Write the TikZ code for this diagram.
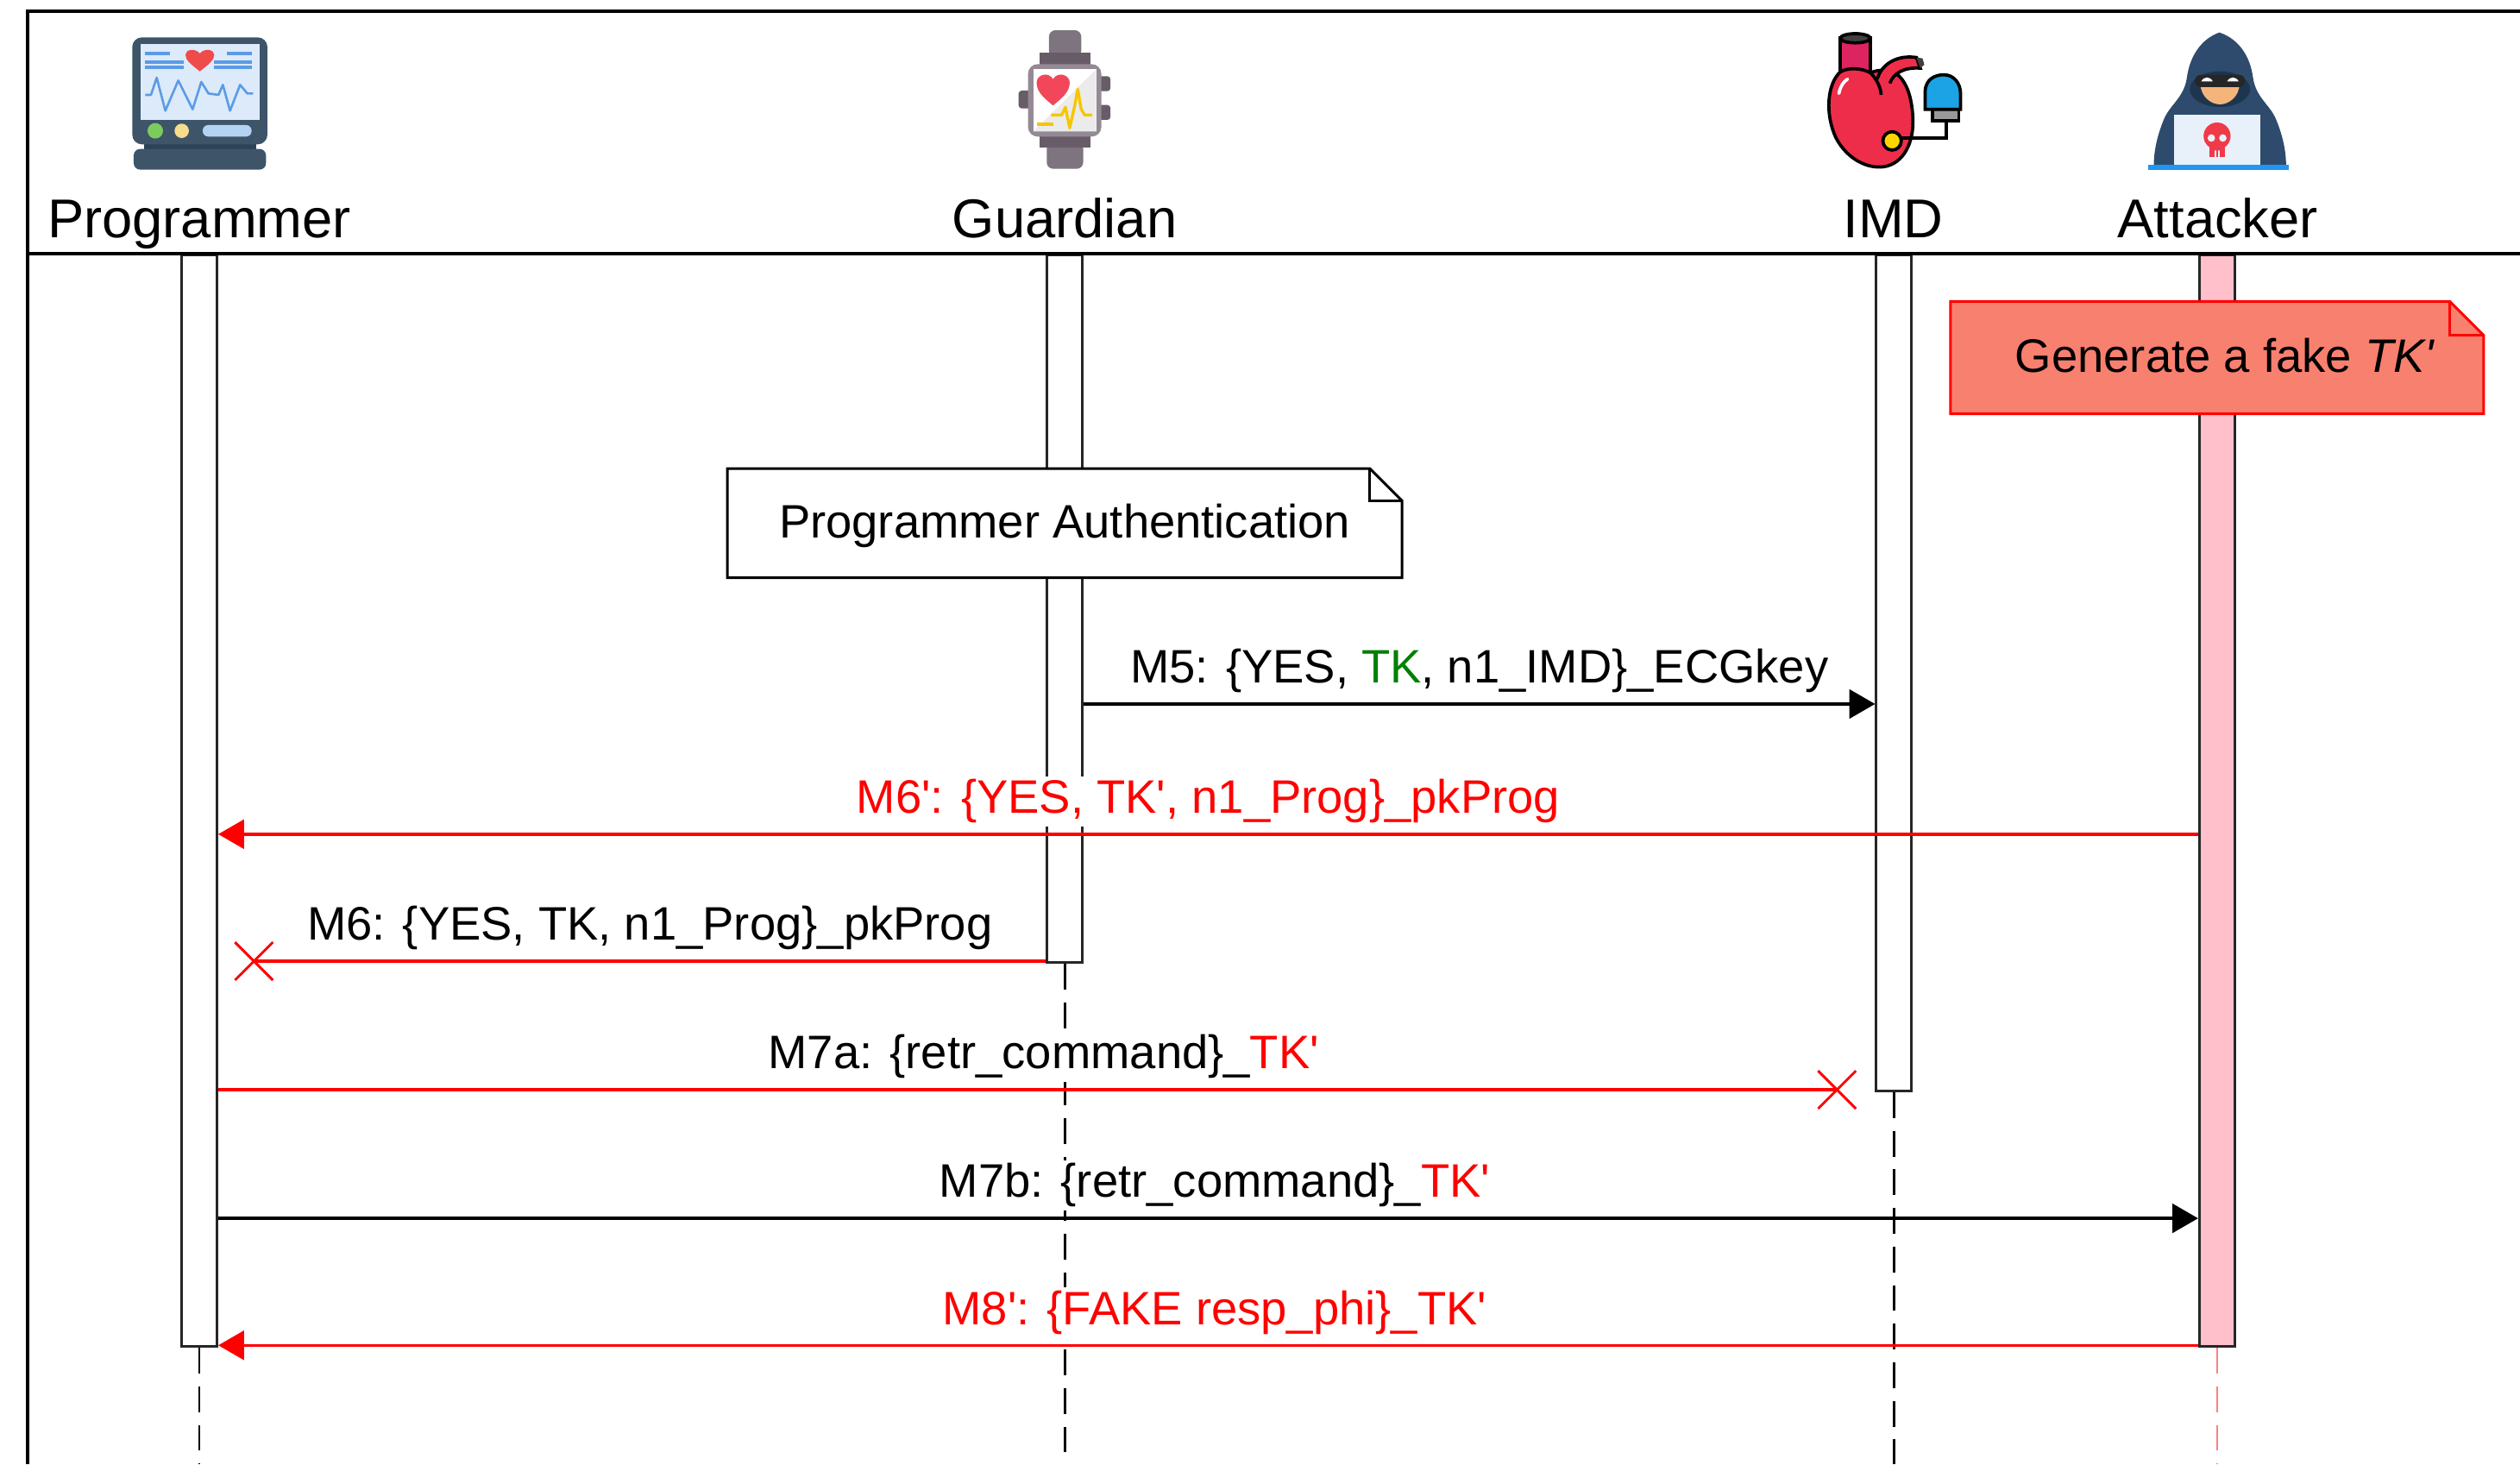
\documentclass[tikz,border=0pt]{standalone}
\usepackage{fontspec}
\setmainfont{Liberation Sans}
\usetikzlibrary{arrows.meta,shapes.misc}

\definecolor{tkgreen}{HTML}{008000}
\definecolor{fakefill}{HTML}{F8806F}
\definecolor{attpink}{HTML}{FFC0CB}
% icon colours
\definecolor{monslate}{HTML}{3D5469}
\definecolor{monneck}{HTML}{2E4256}
\definecolor{monscreen}{HTML}{DCEAF9}
\definecolor{monline}{HTML}{5B9BE6}
\definecolor{monheart}{HTML}{EF4B4B}
\definecolor{mongreen}{HTML}{7DCB5D}
\definecolor{monyellow}{HTML}{F6DC8C}
\definecolor{monpill}{HTML}{B4D3F2}
\definecolor{bandgrey}{HTML}{7E747F}
\definecolor{banddark}{HTML}{675C68}
\definecolor{casegrey}{HTML}{948A95}
\definecolor{watchheart}{HTML}{F2475A}
\definecolor{watchecg}{HTML}{F7C600}
\definecolor{imdred}{HTML}{EE2D4B}
\definecolor{imdaorta}{HTML}{DD2360}
\definecolor{imdblue}{HTML}{1BA3E5}
\definecolor{imdyellow}{HTML}{FFD500}
\definecolor{hoodblue}{HTML}{2E4B6D}
\definecolor{hooddark}{HTML}{1E3550}
\definecolor{skin}{HTML}{F4B47B}
\definecolor{laptop}{HTML}{E8F1F9}
\definecolor{skull}{HTML}{F03A4A}
\definecolor{baseblue}{HTML}{2196F3}

\newcommand{\TKp}{TK\textquotesingle}

\begin{document}
\begin{tikzpicture}[x=0.5pt,y=-0.5pt,
    frame/.style={line width=1.1pt},
    actor/.style={anchor=base, inner sep=0pt, font=\fontsize{17}{20}\selectfont},
    actbar/.style={draw=black!85, fill=white, line width=0.8pt, anchor=north,
                   minimum width=11pt, inner sep=0pt},
    lifeline/.style={line width=0.8pt, dash pattern=on 8pt off 4pt},
    msg/.style={line width=0.9pt},
    tip/.style={-{Triangle[length=8pt,width=9pt]}},
    msglbl/.style={midway, above=2pt, inner sep=1pt, fill=white, text=black,
                   font=\fontsize{14.6}{17}\selectfont},
    lost/.style={draw=red, cross out, line width=0.8pt, minimum size=11pt, inner sep=0pt},
    notebox/.style={inner sep=0pt},
    notetext/.style={anchor=base, inner sep=0pt, yshift=-4.6pt,
                     font=\fontsize{14.6}{17}\selectfont},
    noteline/.style={line width=0.8pt}
  ]
  \useasboundingbox (0,0) rectangle (1568,911);

  % message rows
  \coordinate (yM5) at (0,438);
  \coordinate (yM6f) at (0,519);
  \coordinate (yM6) at (0,598);
  \coordinate (yM7a) at (0,678);
  \coordinate (yM7b) at (0,758);
  \coordinate (yM8f) at (0,837);
  \coordinate (bottom) at (0,911);

  % activation bars
  \node[actbar, minimum height=339.5pt] (progBar) at (124,158) {};
  \node[actbar, minimum height=220pt] (guardBar) at (662.5,158) {};
  \node[actbar, minimum height=260pt] (imdBar) at (1178.5,158) {};
  \node[actbar, fill=attpink, minimum height=339.5pt] (attBar) at (1379.5,158) {};

  \draw[lifeline] (progBar.south) -- (progBar.south |- bottom);
  \draw[lifeline] (guardBar.south) -- (guardBar.south |- bottom);
  \draw[lifeline] (imdBar.south) -- (imdBar.south |- bottom);
  \draw[lifeline, draw=red!50, line width=0.5pt] (attBar.south) -- (attBar.south |- bottom);

  % notes
  \node[notebox, minimum width=209.5pt, minimum height=33.5pt] (authNote) at (662.5,325.5) {};
  \draw[noteline, fill=white] (authNote.south west) -- (authNote.north west)
    -- ([xshift=-10pt]authNote.north east) -- ([yshift=-10pt]authNote.north east)
    -- (authNote.south east) -- cycle;
  \draw[noteline] ([xshift=-10pt]authNote.north east) |- ([yshift=-10pt]authNote.north east);
  \node[notetext] (authText) at (authNote.center) {Programmer Authentication};

  \node[notebox, minimum width=165.5pt, minimum height=34.5pt] (fakeNote) at (1379.5,222.5) {};
  \draw[noteline, draw=red, fill=fakefill] (fakeNote.south west) -- (fakeNote.north west)
    -- ([xshift=-10.5pt]fakeNote.north east) -- ([yshift=-10.5pt]fakeNote.north east)
    -- (fakeNote.south east) -- cycle;
  \draw[noteline, draw=red] ([xshift=-10.5pt]fakeNote.north east) |- ([yshift=-10.5pt]fakeNote.north east);
  \node[notetext, xshift=2.5pt] (fakeText) at (fakeNote.center) {Generate a fake \textit{\TKp}};

  % messages
  \draw[msg, tip] (guardBar.east |- yM5) -- node[msglbl] (lblM5)
    {M5: \{YES, \textcolor{tkgreen}{TK}, n1\_IMD\}\_ECGkey} (imdBar.west |- yM5);
  \draw[msg, red, tip] (attBar.west |- yM6f) -- node[msglbl, text=red] (lblM6f)
    {M6\textquotesingle: \{YES, \TKp, n1\_Prog\}\_pkProg} (progBar.east |- yM6f);
  \node[lost] (lostM6) at (158,598) {};
  \draw[msg, red] (guardBar.west |- yM6) -- node[msglbl] (lblM6)
    {M6: \{YES, TK, n1\_Prog\}\_pkProg} (lostM6.center);
  \node[lost] (lostM7a) at (1143,678) {};
  \draw[msg, red] (progBar.east |- yM7a) -- node[msglbl, xshift=5pt] (lblM7a)
    {M7a: \{retr\_command\}\_\textcolor{red}{\TKp}} (lostM7a.center);
  \draw[msg, tip] (progBar.east |- yM7b) -- node[msglbl, xshift=2pt] (lblM7b)
    {M7b: \{retr\_command\}\_\textcolor{red}{\TKp}} (attBar.west |- yM7b);
  \draw[msg, red, tip] (attBar.west |- yM8f) -- node[msglbl, text=red, xshift=2pt] (lblM8f)
    {M8\textquotesingle: \{FAKE resp\_phi\}\_\TKp} (progBar.east |- yM8f);

  % header
  \draw[frame] (17,911) -- (17,7) -- (1568,7);
  \draw[frame] (17,158) -- (1568,158);
  \node[actor] (progLbl) at (124,148) {Programmer};
  \node[actor] (guardLbl) at (662.5,148) {Guardian};
  \node[actor] (imdLbl) at (1178,148) {IMD};
  \node[actor] (attLbl) at (1380,148) {Attacker};

  % programmer device
  \begin{scope}[shift={(75.15,16.1)}, scale=0.1789]
    \fill[monneck] (80,395) rectangle (470,440);
    \fill[monslate, rounded corners=2pt] (45,428) rectangle (505,500);
    \fill[monslate, rounded corners=3pt] (40,40) rectangle (510,412);
    \fill[monscreen] (68,62) rectangle (483,328);
    \draw[monline, line width=1pt] (85,97) -- (170,97) (85,125) -- (220,125) (85,145) -- (220,145)
      (370,97) -- (455,97) (325,125) -- (455,125) (325,145) -- (455,145);
    \fill[monheart] (275,158) .. controls (245,135) and (224,118) .. (225,100)
      .. controls (226,82) and (258,76) .. (275,96) .. controls (292,76) and (324,82) .. (325,100)
      .. controls (326,118) and (305,135) .. (275,158) -- cycle;
    \draw[monline, line width=0.7pt, line join=round] (85,240) -- (105,240) -- (125,180)
      -- (155,295) -- (200,190) -- (250,290) -- (280,195) -- (305,235) -- (340,240)
      -- (355,205) -- (380,295) -- (415,205) -- (440,235) -- (460,235);
    \fill[mongreen] (120,365) circle [radius=27];
    \fill[monyellow] (212,365) circle [radius=25];
    \fill[monpill, rounded corners=1.7pt] (285,345) rectangle (455,385);
  \end{scope}

  % guardian watch
  \begin{scope}[shift={(622.65,13.42)}, scale=0.1789]
    \fill[bandgrey, rounded corners=2pt] (168,30) rectangle (280,125);
    \fill[bandgrey, rounded corners=2pt] (160,420) rectangle (287,512);
    \fill[banddark] (135,108) rectangle (312,150);
    \fill[banddark] (135,398) rectangle (312,438);
    \fill[banddark, rounded corners=1pt] (335,190) rectangle (382,242);
    \fill[banddark, rounded corners=1pt] (335,290) rectangle (382,342);
    \fill[banddark, rounded corners=1pt] (62,240) rectangle (110,302);
    \fill[casegrey, rounded corners=3pt] (95,148) rectangle (350,400);
    \fill[white] (113,166) rectangle (332,382);
    \fill[black!8] (332,166) -- (332,382) -- (113,382) -- cycle;
    \fill[watchheart] (182,292) .. controls (150,265) and (125,245) .. (125,212)
      .. controls (125,185) and (165,172) .. (182,200) .. controls (199,172) and (240,185) .. (240,212)
      .. controls (240,245) and (214,265) .. (182,292) -- cycle;
    \draw[watchecg, line width=0.9pt] (125,357) -- (182,357);
    \draw[watchecg, line width=0.9pt, line join=round] (175,325) -- (212,325) -- (225,298)
      -- (240,370) -- (258,290) -- (268,235) -- (280,305) -- (292,325) -- (318,325);
  \end{scope}

  % implanted heart
  \begin{scope}[shift={(1127.2,13.42)}, scale=0.1789, line width=1pt]
    \draw[fill=imdaorta] (100,185) -- (100,58) -- (205,58) -- (205,185);
    \draw[fill=black!75] (152,58) ellipse [x radius=52, y radius=16];
    \draw[fill=imdred] (100,175) .. controls (55,215) and (45,320) .. (85,405)
      .. controls (125,480) and (195,512) .. (250,505)
      .. controls (320,495) and (358,420) .. (352,330)
      .. controls (348,260) and (330,215) .. (305,190)
      .. controls (275,165) and (235,165) .. (205,178)
      .. controls (170,160) and (125,160) .. (100,175) -- cycle;
    \draw[fill=imdred] (228,200) .. controls (245,145) and (300,115) .. (365,125)
      -- (378,162) .. controls (320,158) and (285,180) .. (272,215);
    \fill[black!75] (365,125) -- (378,162) -- (392,150) -- (386,128) -- cycle;
    \draw (205,178) .. controls (225,200) and (240,225) .. (242,255);
    \draw[white, line cap=round] (95,250) .. controls (100,225) and (110,210) .. (125,200);
    \draw[fill=black!40] (420,300) rectangle (512,345);
    \draw[fill=imdblue] (395,305) -- (395,245) .. controls (395,200) and (430,185) .. (460,185)
      .. controls (495,185) and (518,215) .. (518,250) -- (518,305) -- cycle;
    \draw (468,345) -- (468,405) -- (310,405);
    \draw[fill=imdyellow] (280,415) circle [radius=32];
  \end{scope}

  % hooded attacker
  \begin{scope}[shift={(1331.2,13.42)}, scale=0.1789]
    \fill[hoodblue] (278,38) .. controls (215,60) and (175,120) .. (165,195)
      .. controls (155,265) and (105,290) .. (85,340)
      .. controls (62,395) and (50,450) .. (50,500) -- (510,500)
      .. controls (510,450) and (498,395) .. (475,340)
      .. controls (455,290) and (405,265) .. (395,195)
      .. controls (385,120) and (345,60) .. (278,38) -- cycle;
    \fill[hooddark] (280,235) ellipse [x radius=105, y radius=62];
    \fill[skin] (212,215) .. controls (212,262) and (250,288) .. (280,288)
      .. controls (310,288) and (348,262) .. (348,215) -- cycle;
    \fill[black!85, rounded corners=2pt] (192,185) rectangle (368,228);
    \fill[white] (215,208) .. controls (225,190) and (245,190) .. (255,208) -- cycle;
    \fill[white] (305,208) .. controls (315,190) and (335,190) .. (345,208) -- cycle;
    \fill[laptop] (120,325) rectangle (420,500);
    \fill[skull] (270,398) circle [radius=47];
    \fill[skull] (242,420) rectangle (298,472);
    \fill[laptop] (250,405) circle [radius=13] (290,405) circle [radius=13];
    \fill[laptop] (262,448) rectangle (267,472) (274,448) rectangle (279,472);
    \fill[baseblue] (30,497) rectangle (520,517);
  \end{scope}
\end{tikzpicture}
\end{document}
